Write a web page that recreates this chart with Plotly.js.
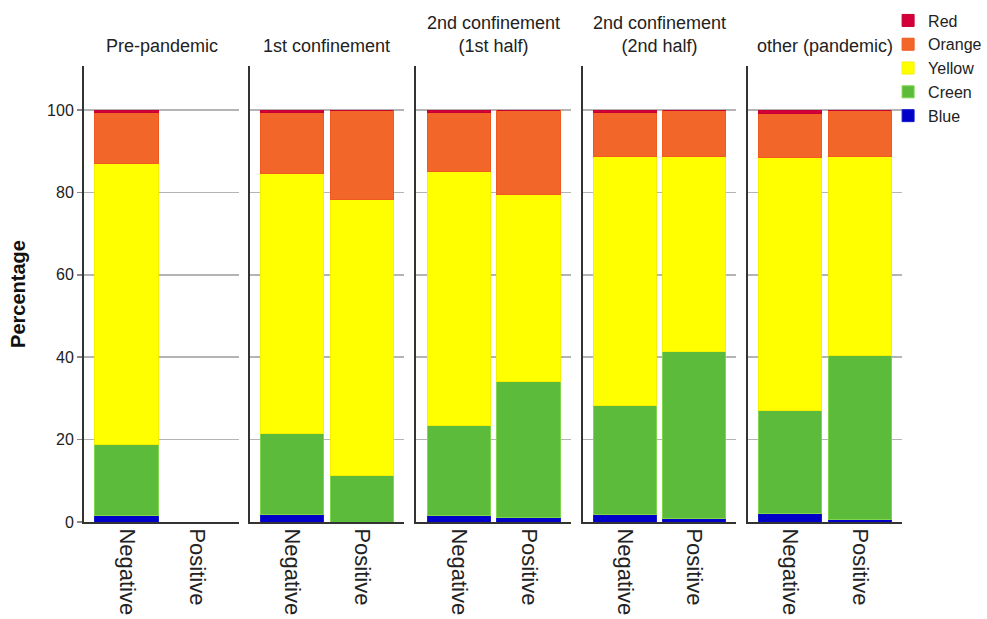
<!DOCTYPE html>
<html>
<head>
<meta charset="utf-8">
<script src="https://cdn.plot.ly/plotly-3.0.1.min.js"></script>
<style>html,body{margin:0;padding:0;background:#fff;}#chart{width:987px;height:619px;}</style>
</head>
<body>
<div id="chart"></div>
<script>
// Facets (periods) and categories
const periods = ["Pre-pandemic", "1st confinement", "2nd confinement<br>(1st half)", "2nd confinement<br>(2nd half)", "other (pandemic)"];
const categories = ["Negative", "Positive"];
const seriesNames = ["Blue", "Creen", "Yellow", "Orange", "Red"];
const seriesColors = ["#0000c8", "#5dbb3b", "#ffff00", "#f2662a", "#d4003a"];
const lineColors = ["#1a1ad0", "#7fd64a", "#f5f000", "#f05a1e", "#c80030"];

// Percentages per period: [Negative, Positive]; null = no data
const blue   = [[1.7, null], [1.9, 0.0], [1.7, 1.1], [1.9, 0.9], [2.0, 0.6]];
const green  = [[17.2, null], [19.5, 11.4], [21.7, 32.9], [26.3, 40.6], [25.0, 39.9]];
const yellow = [[68.2, null], [63.1, 66.9], [61.6, 45.6], [60.6, 47.3], [61.5, 48.3]];
const orange = [[12.2, null], [14.8, 21.7], [14.3, 20.4], [10.5, 11.2], [10.7, 11.2]];
const red    = [[0.7, null], [0.7, 0.0], [0.7, 0.0], [0.7, 0.0], [0.8, 0.0]];
const allSeries = [blue, green, yellow, orange, red];

const domains = [[0, 0.1895], [0.2029, 0.3912], [0.4059, 0.5954], [0.6100, 0.7971], [0.8117, 1.0]];

const traces = [];
const layout = {
  width: 987, height: 619,
  margin: {l: 84, r: 85, t: 66, b: 97, autoexpand: false},
  paper_bgcolor: "#ffffff", plot_bgcolor: "#ffffff",
  barmode: "stack", bargap: 0.094,
  font: {family: "Arial, Liberation Sans, sans-serif", color: "#222"},
  showlegend: true,
  legend: {
    x: 0.983, xanchor: "left", y: 1.137, yanchor: "top",
    traceorder: "reversed", font: {size: 16, color: "#222"},
    itemwidth: 30, tracegroupgap: 0, bgcolor: "rgba(0,0,0,0)"
  },
  annotations: [],
  shapes: []
};

periods.forEach((p, i) => {
  const xa = i === 0 ? "x" : "x" + (i + 1);
  const ya = i === 0 ? "y" : "y" + (i + 1);
  allSeries.forEach((s, k) => {
    traces.push({
      type: "bar", x: categories, y: s[i], name: seriesNames[k],
      xaxis: xa, yaxis: ya,
      marker: {color: seriesColors[k], line: {color: lineColors[k], width: 1}},
      showlegend: i === 0, legendgroup: seriesNames[k], hoverinfo: "skip"
    });
  });
  const xkey = i === 0 ? "xaxis" : "xaxis" + (i + 1);
  const ykey = i === 0 ? "yaxis" : "yaxis" + (i + 1);
  layout[xkey] = {
    domain: domains[i], anchor: ya, type: "category",
    range: [-0.61, 1.605], fixedrange: true,
    showline: true, linecolor: "#333", linewidth: 2,
    ticks: "", tickangle: 90, tickfont: {size: 22, color: "#222"},
    showgrid: false, zeroline: false
  };
  layout[ykey] = {
    anchor: xa, range: [0, 110.7], fixedrange: true,
    tickvals: [0, 20, 40, 60, 80, 100],
    showticklabels: i === 0, tickfont: {size: 16, color: "#222"},
    ticks: i === 0 ? "outside" : "", ticklen: 5, tickcolor: "#888", tickwidth: 1.5,
    showline: true, linecolor: "#333", linewidth: 2,
    showgrid: true, gridcolor: "#b4b4b4", gridwidth: 1.5,
    zeroline: false
  };
  if (i !== 0) layout[ykey].matches = "y";
  layout.annotations.push({
    text: p, xref: "paper", yref: "paper",
    x: (domains[i][0] + domains[i][1]) / 2, xanchor: "center",
    y: 1.0175, yanchor: "bottom", showarrow: false,
    font: {size: 18, color: "#222"}
  });
});

layout.yaxis.title = {text: "Percentage", font: {size: 20, color: "#111", weight: "bold"}, standoff: 16};

Plotly.newPlot("chart", traces, layout, {displayModeBar: false, staticPlot: true});
</script>
</body>
</html>
